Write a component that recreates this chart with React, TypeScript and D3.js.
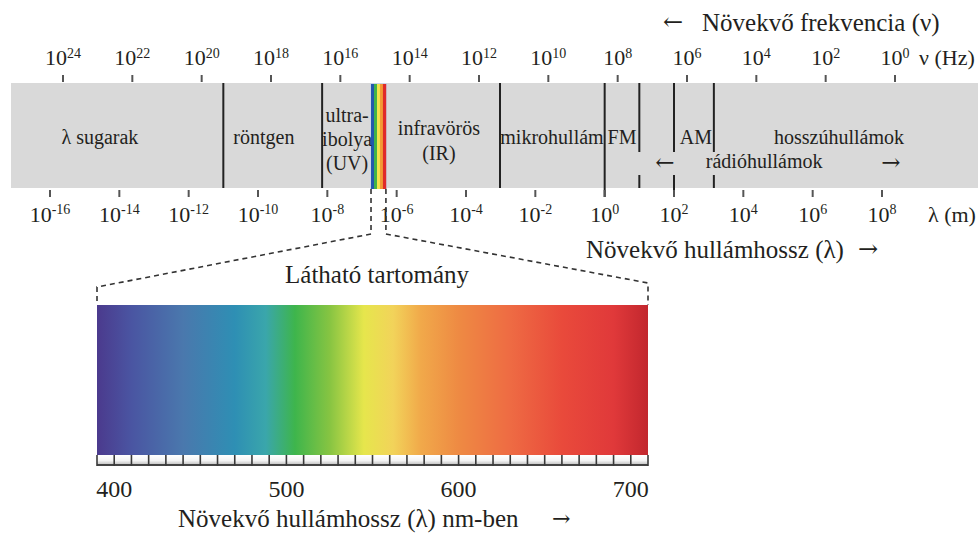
import React from 'react';
import * as d3 from 'd3';

// ---- data ----
const freqExponents = [24, 22, 20, 18, 16, 14, 12, 10, 8, 6, 4, 2, 0];
const waveExponents = [-16, -14, -12, -10, -8, -6, -4, -2, 0, 2, 4, 6, 8];

// region boundaries, log10(λ in m)
const boundaryLogs = [-11.0, -8.15, -3.02, 0, 1.0, 2.0, 3.15];
const boundaryBroken = [false, false, false, false, true, true, true];
const boundaryLong = [false, false, false, true, false, true, false];

// visible strip in the big band, log10(λ)
const visibleStripLogs = [-6.74, -6.31];
const visibleStripColors = ['#2357ad', '#3fb24a', '#f3e24a', '#f39a35', '#e02a2a'];

const bandLabelTexts = [
  ['λ sugarak'],
  ['röntgen'],
  ['ultra-', 'ibolya', '(UV)'],
  ['infravörös', '(IR)'],
  ['mikrohullám'],
  ['FM'],
  ['AM'],
  ['hosszúhullámok'],
];
const bandLabelLogs = [-14.56, -9.83, -7.43, -4.78, -1.52, 0.5, 2.63, 6.76];

const radioLabel = 'rádióhullámok';
const radioLabelLog = 4.6;
const radioArrowLogs = [1.74, 8.26];

// visible spectrum (nm)
const nmDomain = [390, 710];
const nmTicks = [400, 500, 600, 700];
const nmRulerStep = 10;
const spectrumStopsNm = [390, 410, 440, 470, 488, 505, 525, 545, 562, 578, 600, 630, 660, 690, 710];
const spectrumStopsColor = [
  '#4b3a8d', '#4a55a2', '#4a78ad', '#2e8fb4', '#3aa6ab', '#3eb54c', '#86c442',
  '#e6e64c', '#f2d35a', '#f1a94a', '#ee8a43', '#ee6b43', '#e94a3b', '#e0393a', '#c2272e',
];

const ink = '#231f20';
const font = '"Liberation Serif", "Times New Roman", serif';
const arrowFont = '"DejaVu Serif", serif';

export default function App() {
  const W = 978, H = 533;
  const band = { x0: 11, x1: 978, y0: 83, y1: 188 };

  const xWave = d3.scaleLog().domain([1e-16, 1e8]).range([50, 882]);
  const xFreq = d3.scaleLog().domain([1e24, 1e0]).range([63, 895]);
  const xl = (lg: number) => xWave(Math.pow(10, lg));

  const xNm = d3.scaleLinear().domain(nmDomain).range([97, 648]);
  const rulerMarks = d3.range(nmDomain[0], nmDomain[1] + 0.1, nmRulerStep);

  const spec = { y0: 305, y1: 455 };
  const ruler = { y0: 455, y1: 465 };

  const stripX0 = xl(visibleStripLogs[0]);
  const stripX1 = xl(visibleStripLogs[1]);
  const stripScale = d3.scaleBand<number>().domain(d3.range(visibleStripColors.length)).range([stripX0, stripX1]);

  const dash = { stroke: '#333', strokeWidth: 1.6, strokeDasharray: '5 4', fill: 'none' };

  return (
    <svg width={W} height={H} style={{ position: 'absolute', left: 0, top: 0, background: '#fff' }} fontFamily={font}>
      <defs>
        <linearGradient id="spec" x1="0" x2="1" y1="0" y2="0">
          {spectrumStopsNm.map((nm, i) => (
            <stop key={i} offset={(nm - nmDomain[0]) / (nmDomain[1] - nmDomain[0])} stopColor={spectrumStopsColor[i]} />
          ))}
        </linearGradient>
        <linearGradient id="cell" x1="0" x2="0" y1="0" y2="1">
          <stop offset="0" stopColor="#ffffff" />
          <stop offset="0.55" stopColor="#f4f4f4" />
          <stop offset="1" stopColor="#bdbdbd" />
        </linearGradient>
      </defs>

      {/* title top */}
      <text x={663} y={30} fontSize={24} fontFamily={arrowFont} fill={ink}>←</text>
      <text x={702} y={31} fontSize={25} fill={ink}>Növekvő frekvencia (ν)</text>

      {/* frequency ticks */}
      {freqExponents.map((e) => (
        <g key={'f' + e}>
          <line x1={xFreq(Math.pow(10, e))} x2={xFreq(Math.pow(10, e))} y1={75} y2={82} stroke="#555" strokeWidth={2} />
          <text x={xFreq(Math.pow(10, e))} y={65} fontSize={22} fill={ink} textAnchor="middle">
            10<tspan dy={-7} fontSize={14}>{e}</tspan>
          </text>
        </g>
      ))}
      <text x={919} y={65} fontSize={22} fill={ink}>ν (Hz)</text>

      {/* gray band */}
      <rect x={band.x0} y={band.y0} width={band.x1 - band.x0} height={band.y1 - band.y0} fill="#d9d9d9" />

      {/* boundaries */}
      {boundaryLogs.map((lg, i) => {
        const x = xl(lg);
        const bottom = boundaryLong[i] ? 197 : band.y1;
        return boundaryBroken[i] ? (
          <g key={'b' + i}>
            <line x1={x} x2={x} y1={band.y0} y2={152} stroke="#222" strokeWidth={2} />
            <line x1={x} x2={x} y1={175} y2={bottom} stroke="#222" strokeWidth={2} />
          </g>
        ) : (
          <line key={'b' + i} x1={x} x2={x} y1={band.y0} y2={bottom} stroke="#222" strokeWidth={2} />
        );
      })}

      {/* visible strip */}
      <rect x={stripX0 - 1} y={band.y0} width={stripX1 - stripX0 + 2} height={band.y1 - band.y0 + 1} fill="#c9d3e6" />
      {visibleStripColors.map((c, i) => (
        <rect key={'s' + i} x={stripScale(i)!} y={band.y0 + 1} width={stripScale.bandwidth() + 0.3} height={band.y1 - band.y0} fill={c} />
      ))}

      {/* band labels */}
      {bandLabelTexts.map((lines, i) => {
        const multi = lines.length > 1;
        const first = lines.length === 3 ? 122 : multi ? 135 : 144;
        const step = lines.length === 3 ? 24 : 25;
        return (
          <text key={'l' + i} x={xl(bandLabelLogs[i])} y={first} fontSize={20} fill={ink} textAnchor="middle">
            {lines.map((t, j) => (
              <tspan key={j} x={xl(bandLabelLogs[i])} y={first + j * step}>{t}</tspan>
            ))}
          </text>
        );
      })}
      <text x={xl(radioLabelLog)} y={168} fontSize={20} fill={ink} textAnchor="middle">{radioLabel}</text>
      <text x={xl(radioArrowLogs[0])} y={170} fontSize={23} fontFamily={arrowFont} fill={ink} textAnchor="middle">←</text>
      <text x={xl(radioArrowLogs[1])} y={170} fontSize={23} fontFamily={arrowFont} fill={ink} textAnchor="middle">→</text>

      {/* wavelength ticks */}
      {waveExponents.map((e) => (
        <g key={'w' + e}>
          <line x1={xWave(Math.pow(10, e))} x2={xWave(Math.pow(10, e))} y1={190} y2={197} stroke="#555" strokeWidth={2} />
          <text x={xWave(Math.pow(10, e))} y={222} fontSize={22} fill={ink} textAnchor="middle">
            10<tspan dy={-8} fontSize={14}>{e}</tspan>
          </text>
        </g>
      ))}
      <text x={928} y={222} fontSize={22} fill={ink}>λ (m)</text>

      <text x={586} y={258} fontSize={25} fill={ink}>Növekvő hullámhossz (λ)</text>
      <text x={858} y={257} fontSize={24} fontFamily={arrowFont} fill={ink}>→</text>

      {/* zoom connector */}
      <polyline points={`${stripX0},${band.y1 + 1} ${stripX0},234 ${xNm(nmDomain[0])},287 ${xNm(nmDomain[0])},${spec.y0}`} {...dash} />
      <polyline points={`${stripX1},${band.y1 + 1} ${stripX1},234 ${xNm(nmDomain[1])},283 ${xNm(nmDomain[1])},${spec.y0}`} {...dash} />

      <text x={377} y={283} fontSize={25} fill={ink} textAnchor="middle">Látható tartomány</text>

      {/* spectrum */}
      <rect x={xNm(nmDomain[0])} y={spec.y0} width={xNm(nmDomain[1]) - xNm(nmDomain[0])} height={spec.y1 - spec.y0} fill="url(#spec)" />

      {/* ruler */}
      <rect x={xNm(nmDomain[0])} y={ruler.y0} width={xNm(nmDomain[1]) - xNm(nmDomain[0])} height={ruler.y1 - ruler.y0} fill="url(#cell)" />
      <line x1={xNm(nmDomain[0])} x2={xNm(nmDomain[1])} y1={ruler.y1} y2={ruler.y1} stroke="#444" strokeWidth={2} />
      {rulerMarks.map((nm) => (
        <line key={'r' + nm} x1={xNm(nm)} x2={xNm(nm)} y1={ruler.y0} y2={ruler.y1 + 1} stroke="#3a3a3a" strokeWidth={1.6} />
      ))}

      {nmTicks.map((nm) => (
        <text key={'n' + nm} x={xNm(nm)} y={497} fontSize={24} fill={ink} textAnchor="middle">{nm}</text>
      ))}

      <text x={178} y={527} fontSize={25} fill={ink}>Növekvő hullámhossz (λ) nm-ben</text>
      <text x={552} y={526} fontSize={22} fontFamily={arrowFont} fill={ink}>→</text>
    </svg>
  );
}
